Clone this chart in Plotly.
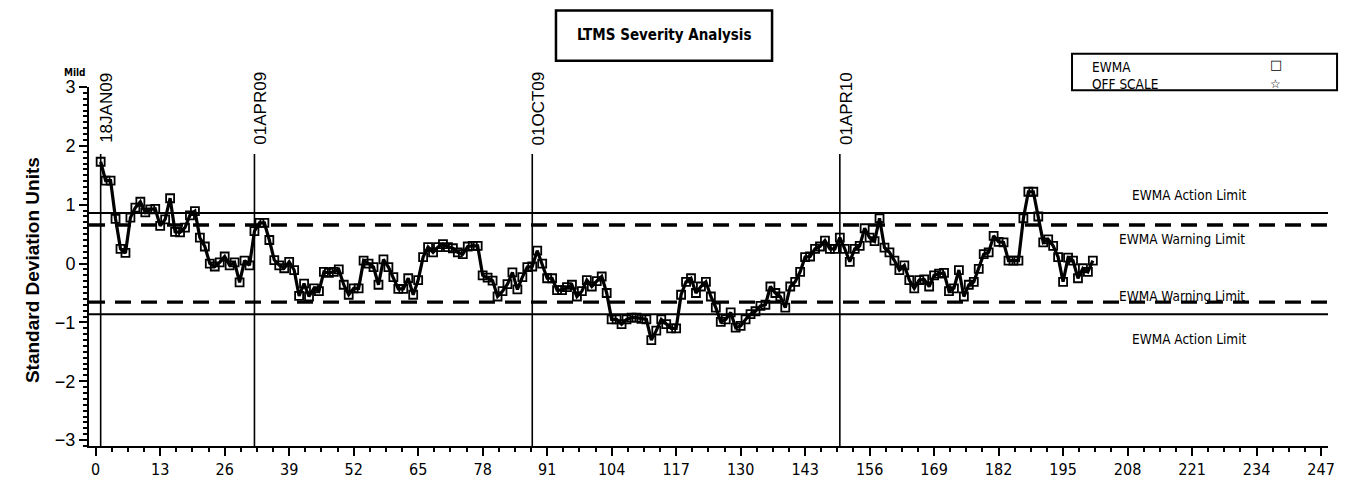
import plotly.graph_objects as go

# ---------------- data ----------------
run_index = list(range(1, 202))
ewma = [
    1.73, 1.41, 1.41, 0.76, 0.25, 0.18, 0.78, 0.95, 1.05, 0.87,
    0.92, 0.93, 0.64, 0.75, 1.11, 0.54, 0.53, 0.61, 0.82, 0.89,
    0.44, 0.29, 0.00, -0.05, 0.02, 0.12, -0.03, 0.02, -0.32, 0.05,
    -0.03, 0.55, 0.69, 0.69, 0.40, 0.06, -0.03, -0.08, 0.03, -0.11,
    -0.55, -0.34, -0.56, -0.42, -0.47, -0.14, -0.16, -0.14, -0.10, -0.36,
    -0.53, -0.42, -0.42, 0.05, 0.00, -0.06, -0.36, 0.07, -0.06, -0.23,
    -0.43, -0.43, -0.25, -0.53, -0.28, 0.11, 0.28, 0.19, 0.28, 0.33,
    0.28, 0.26, 0.19, 0.16, 0.29, 0.30, 0.30, -0.20, -0.24, -0.29,
    -0.56, -0.47, -0.35, -0.15, -0.44, -0.23, -0.06, -0.05, 0.22, 0.00,
    -0.25, -0.25, -0.45, -0.45, -0.40, -0.36, -0.56, -0.47, -0.28, -0.39,
    -0.30, -0.22, -0.50, -0.95, -0.95, -1.03, -0.95, -0.92, -0.92, -0.94,
    -0.95, -1.30, -1.14, -0.95, -1.03, -1.10, -1.10, -0.53, -0.31, -0.25,
    -0.50, -0.39, -0.31, -0.56, -0.75, -0.99, -0.95, -0.83, -1.09, -1.06,
    -0.95, -0.86, -0.81, -0.72, -0.70, -0.39, -0.50, -0.56, -0.75, -0.39,
    -0.31, -0.14, 0.11, 0.12, 0.25, 0.29, 0.39, 0.25, 0.25, 0.44,
    0.25, 0.03, 0.25, 0.30, 0.60, 0.44, 0.38, 0.77, 0.27, 0.19,
    0.05, -0.11, -0.03, -0.28, -0.42, -0.28, -0.27, -0.39, -0.20, -0.17,
    -0.16, -0.47, -0.42, -0.11, -0.56, -0.36, -0.31, -0.09, 0.16, 0.19,
    0.47, 0.37, 0.36, 0.05, 0.05, 0.05, 0.77, 1.22, 1.22, 0.80,
    0.36, 0.41, 0.30, 0.11, -0.31, 0.10, 0.05, -0.25, -0.08, -0.14, 0.05,
]

ref_dates = ["18JAN09", "01APR09", "01OCT09", "01APR10"]
ref_x = [1, 32, 88, 150]

action_limit = 0.86
warning_limit = 0.655
limit_labels = ["EWMA Action Limit", "EWMA Warning Limit",
                "EWMA Warning Limit", "EWMA Action Limit"]
limit_values = [action_limit, warning_limit, -warning_limit, -action_limit]

x_ticks = list(range(0, 248, 13))
y_ticks = [-3, -2, -1, 0, 1, 2, 3]
y_tick_text = ["−3", "−2", "−1", "0", "1", "2", "3"]

NARROW = "DejaVu Sans Condensed, Liberation Sans Narrow, sans-serif"
SANS = "Liberation Sans, Arial, Helvetica, sans-serif"

fig = go.Figure()

fig.add_trace(go.Scatter(
    x=run_index, y=ewma, mode="lines+markers", name="EWMA",
    line=dict(color="black", width=3.2),
    marker=dict(symbol="square-open", size=8, color="black",
                line=dict(color="black", width=1.8)),
    showlegend=False,
))

shapes = []
for v in limit_values:
    is_action = abs(v) == action_limit
    shapes.append(dict(
        type="line", xref="paper", yref="y", x0=0, x1=1, y0=v, y1=v,
        line=dict(color="black", width=2 if is_action else 3.3,
                  dash="solid" if is_action else "16px,10px"),
        layer="below",
    ))
for rx in ref_x:
    shapes.append(dict(
        type="line", xref="x", yref="y", x0=rx, x1=rx, y0=1.86, y1=-3.1,
        line=dict(color="black", width=1.6), layer="below",
    ))
# title box
shapes.append(dict(type="rect", xref="paper", yref="paper",
                   x0=0.3769, x1=0.5513, y0=1.0732, y1=1.2129,
                   line=dict(color="black", width=2.5)))
# legend box
shapes.append(dict(type="rect", xref="paper", yref="paper",
                   x0=0.7934, x1=1.0073, y0=0.9910, y1=1.0923,
                   line=dict(color="black", width=2)))

annotations = []
annotations.append(dict(text="<b>LTMS Severity Analysis</b>", xref="paper", yref="paper",
                        x=0.4641, y=1.1444, xanchor="center", yanchor="middle",
                        showarrow=False,
                        font=dict(family=NARROW, size=15, color="black")))
for rx, lab in zip(ref_x, ref_dates):
    annotations.append(dict(text=lab, xref="x", yref="y", x=rx, y=2.64,
                            xanchor="center", yanchor="middle",
                            textangle=-90, showarrow=False, xshift=6,
                            font=dict(family=SANS, size=17, color="black")))
label_x = [208.4, 205.8, 205.8, 208.4]
label_y = [1.17, 0.42, -0.55, -1.29]
for lx, ly, lab in zip(label_x, label_y, limit_labels):
    annotations.append(dict(text=lab, xref="x", yref="y", x=lx, y=ly,
                            xanchor="left", yanchor="middle", showarrow=False,
                            font=dict(family=NARROW, size=13.5, color="black")))
annotations.append(dict(text="<b>Standard Deviation Units</b>", xref="paper", yref="paper",
                        x=-0.046, y=0.49, xanchor="center", yanchor="middle",
                        textangle=-90, showarrow=False,
                        font=dict(family=SANS, size=19, color="black")))
annotations.append(dict(text="<b>Mild</b>", xref="paper", yref="paper",
                        x=-0.0113, y=1.040, xanchor="center", yanchor="middle",
                        showarrow=False,
                        font=dict(family=NARROW, size=10, color="black")))
annotations.append(dict(text="EWMA", xref="paper", yref="paper", x=0.8079, y=1.0567,
                        xanchor="left", yanchor="middle", showarrow=False,
                        font=dict(family=NARROW, size=13.5, color="black")))
annotations.append(dict(text="OFF SCALE", xref="paper", yref="paper", x=0.8079, y=1.0074,
                        xanchor="left", yanchor="middle", showarrow=False,
                        font=dict(family=NARROW, size=13.5, color="black")))
annotations.append(dict(text="<b>□</b>", xref="paper", yref="paper", x=0.958, y=1.0622,
                        xanchor="center", yanchor="middle", showarrow=False,
                        font=dict(family="DejaVu Sans", size=13, color="black")))
annotations.append(dict(text="☆", xref="paper", yref="paper", x=0.958, y=1.0074,
                        xanchor="center", yanchor="middle", showarrow=False,
                        font=dict(family="DejaVu Sans", size=12, color="black")))

fig.update_layout(
    width=1351, height=491,
    margin=dict(l=89, r=23, t=87, b=39),
    paper_bgcolor="white", plot_bgcolor="white",
    shapes=shapes, annotations=annotations,
    showlegend=False,
)
fig.update_xaxes(
    range=[-1.35, 248.4], tickmode="array", tickvals=x_ticks,
    ticks="outside", ticklen=8, tickwidth=2, tickcolor="black",
    showline=True, linecolor="black", linewidth=2,
    showgrid=False, zeroline=False,
    tickfont=dict(family=NARROW, size=16, color="black"),
    minor=dict(dtick=3.25, tick0=0, ticks="outside", ticklen=4, tickwidth=2,
               tickcolor="black", showgrid=False),
)
fig.update_yaxes(
    range=[-3.1, 3.0], tickmode="array", tickvals=y_ticks,
    ticktext=y_tick_text,
    ticks="outside", ticklen=8, tickwidth=2, tickcolor="black",
    showline=True, linecolor="black", linewidth=2,
    showgrid=False, zeroline=False,
    tickfont=dict(family=SANS, size=18, color="black"),
    minor=dict(dtick=0.1, tick0=0, ticks="outside", ticklen=4, tickwidth=1.5,
               tickcolor="black", showgrid=False),
)

fig.write_html("out.html", config={"displayModeBar": False},
               post_script="document.body.style.margin='0px';")
